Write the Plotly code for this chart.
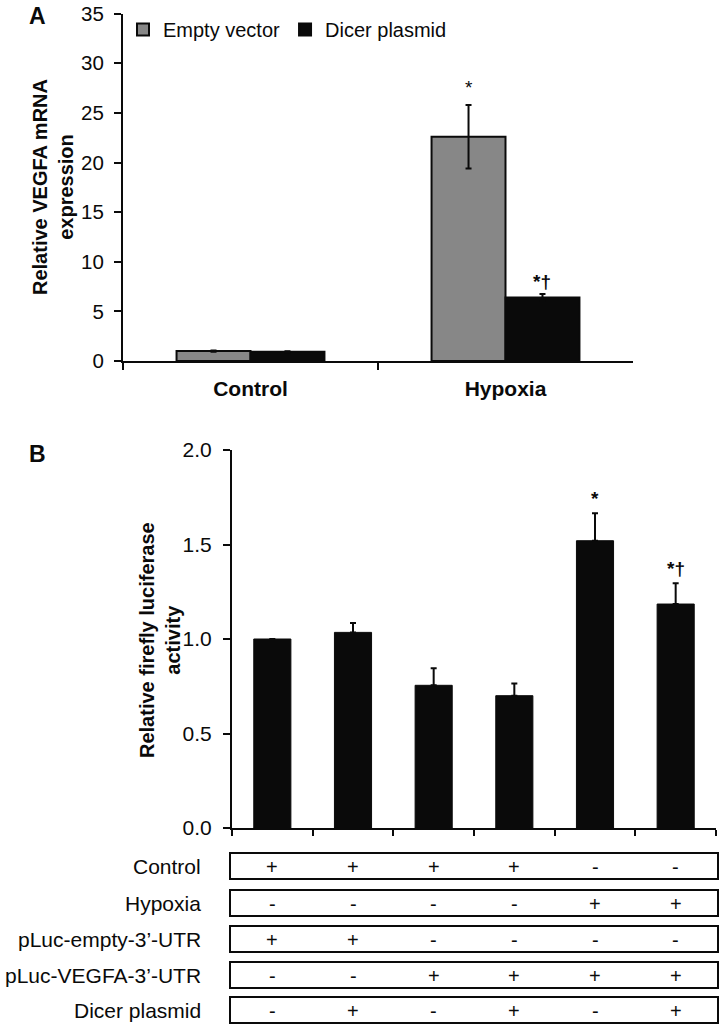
import plotly.graph_objects as go

# ---------------- data ----------------
a_categories = ["Control", "Hypoxia"]
a_empty = [1.0, 22.6]
a_empty_err = [0.06, 3.2]
a_dicer = [0.93, 6.4]
a_dicer_err = [0.06, 0.35]
a_marks_empty = ["", "*"]
a_marks_dicer = ["", "*†"]

b_groups = ["Ctrl empty", "Ctrl empty Dicer", "Ctrl VEGFA", "Ctrl VEGFA Dicer",
            "Hyp VEGFA", "Hyp VEGFA Dicer"]
b_values = [1.0, 1.035, 0.755, 0.70, 1.52, 1.185]
b_err = [0.0, 0.05, 0.09, 0.065, 0.145, 0.11]
b_marks = ["", "", "", "", "*", "*†"]

table_rows = ["Control", "Hypoxia", "pLuc-empty-3’-UTR", "pLuc-VEGFA-3’-UTR", "Dicer plasmid"]
table_marks = [
    ["+", "+", "+", "+", "-", "-"],
    ["-", "-", "-", "-", "+", "+"],
    ["+", "+", "-", "-", "-", "-"],
    ["-", "-", "+", "+", "+", "+"],
    ["-", "+", "-", "+", "-", "+"],
]

# ---------------- layout helpers ----------------
W, H = 720, 1025
FONT = "Liberation Sans"
GRAY = "#878787"
BLACK = "#0a0a0a"


def px(p):
    return p / W


def py(p):
    return 1 - p / H


bargap_a = 0.42
bar_w_b = 0.46

fig = go.Figure()

# Panel A
fig.add_trace(go.Bar(
    x=a_categories, y=a_empty, name="Empty vector",
    marker=dict(color=GRAY, line=dict(color=BLACK, width=2)),
    error_y=dict(type="data", array=a_empty_err, color=BLACK, thickness=2, width=3),
    xaxis="x", yaxis="y",
))
fig.add_trace(go.Bar(
    x=a_categories, y=a_dicer, name="Dicer plasmid",
    marker=dict(color=BLACK, line=dict(color=BLACK, width=2)),
    error_y=dict(type="data", array=a_dicer_err, color=BLACK, thickness=2, width=3),
    xaxis="x", yaxis="y",
))

# Panel B
fig.add_trace(go.Bar(
    x=b_groups, y=b_values, width=bar_w_b, showlegend=False,
    marker=dict(color=BLACK, line=dict(color=BLACK, width=1)),
    error_y=dict(type="data", symmetric=False, array=b_err,
                 arrayminus=[0] * len(b_err), color=BLACK, thickness=2, width=3),
    xaxis="x2", yaxis="y2",
))

annotations = []
# significance marks panel A
off = (1 - bargap_a) / 4
for i, (m, v, e) in enumerate(zip(a_marks_empty, a_empty, a_empty_err)):
    if m:
        annotations.append(dict(x=i - off, y=v + e, xref="x", yref="y", text=m,
                                showarrow=False, yanchor="bottom", yshift=5,
                                font=dict(family=FONT, size=19, color=BLACK)))
for i, (m, v, e) in enumerate(zip(a_marks_dicer, a_dicer, a_dicer_err)):
    if m:
        annotations.append(dict(x=i + off, y=v + e, xref="x", yref="y", text=m,
                                showarrow=False, yanchor="bottom", yshift=0,
                                font=dict(family=FONT, size=19, color=BLACK, weight="bold")))
# significance marks panel B
for g, m, v, e in zip(b_groups, b_marks, b_values, b_err):
    if m:
        annotations.append(dict(x=g, y=v + e, xref="x2", yref="y2", text=m,
                                showarrow=False, yanchor="bottom", yshift=2,
                                font=dict(family=FONT, size=19, color=BLACK, weight="bold")))

# panel letters
annotations.append(dict(x=px(27), y=py(1), xref="paper", yref="paper", text="<b>A</b>",
                        showarrow=False, xanchor="left", yanchor="top",
                        font=dict(family=FONT, size=23, color=BLACK)))
annotations.append(dict(x=px(27), y=py(439), xref="paper", yref="paper", text="<b>B</b>",
                        showarrow=False, xanchor="left", yanchor="top",
                        font=dict(family=FONT, size=23, color=BLACK)))

# axis titles
annotations.append(dict(x=px(53), y=py(187), xref="paper", yref="paper",
                        text="<b>Relative VEGFA mRNA<br>expression</b>", textangle=-90,
                        showarrow=False, xanchor="center", yanchor="middle",
                        font=dict(family=FONT, size=20, color=BLACK)))
annotations.append(dict(x=px(160), y=py(640), xref="paper", yref="paper",
                        text="<b>Relative firefly luciferase<br>activity</b>", textangle=-90,
                        showarrow=False, xanchor="center", yanchor="middle",
                        font=dict(family=FONT, size=20, color=BLACK)))

# table
row_tops = [853, 890, 926, 962, 997]
row_h = 26
shapes = []
for r, (label, marks) in enumerate(zip(table_rows, table_marks)):
    top = row_tops[r]
    shapes.append(dict(type="rect", xref="paper", yref="paper",
                       x0=px(230), x1=px(718), y0=py(top + row_h), y1=py(top),
                       line=dict(color=BLACK, width=2), fillcolor="white"))
    annotations.append(dict(x=px(203), y=py(top + row_h / 2), xref="paper", yref="paper",
                            text=label, showarrow=False, xanchor="right", yanchor="middle",
                            font=dict(family=FONT, size=21, color=BLACK)))
    for g, m in zip(b_groups, marks):
        annotations.append(dict(x=g, y=py(top + row_h / 2 + 1), xref="x2", yref="paper",
                                text=m, showarrow=False, xanchor="center", yanchor="middle",
                                font=dict(family=FONT, size=20, color=BLACK)))

axis_common = dict(showline=True, linecolor=BLACK, linewidth=2, ticks="outside",
                   tickcolor=BLACK, tickwidth=2, showgrid=False, zeroline=False,
                   automargin=False, ticklabeloverflow="allow")

fig.update_layout(
    width=W, height=H,
    margin=dict(l=0, r=0, t=0, b=0, pad=0, autoexpand=False),
    paper_bgcolor="white", plot_bgcolor="white",
    barmode="group", bargap=bargap_a, bargroupgap=0,
    font=dict(family=FONT, color=BLACK),
    showlegend=True,
    legend=dict(orientation="h", x=px(123), y=py(10), xanchor="left", yanchor="top",
                font=dict(family=FONT, size=20, color=BLACK), bgcolor="rgba(0,0,0,0)",
                itemwidth=30, traceorder="normal"),
    xaxis=dict(domain=[px(123), px(633)], anchor="y", type="category",
               tickson="boundaries", ticklen=7, ticklabelstandoff=8,
               tickfont=dict(family=FONT, size=21, color=BLACK, weight="bold"),
               **axis_common),
    yaxis=dict(domain=[py(361), py(13.7)], anchor="x", range=[0, 35], dtick=5,
               ticklen=7, ticklabelstandoff=6,
               tickfont=dict(family=FONT, size=20.5, color=BLACK), **axis_common),
    xaxis2=dict(domain=[px(232), px(716)], anchor="y2", type="category",
                tickson="boundaries", ticklen=6, showticklabels=False, **axis_common),
    yaxis2=dict(domain=[py(828), py(450)], anchor="x2", range=[0, 2], dtick=0.5,
                tickformat=".1f", ticklen=7, ticklabelstandoff=7,
                tickfont=dict(family=FONT, size=21, color=BLACK), **axis_common),
    annotations=annotations,
    shapes=shapes,
)

# remove the default page margin so the figure sits at the page origin; hide the modebar
fig.write_html("out.html", config={"displayModeBar": False},
               post_script="document.body.style.margin='0px';")
